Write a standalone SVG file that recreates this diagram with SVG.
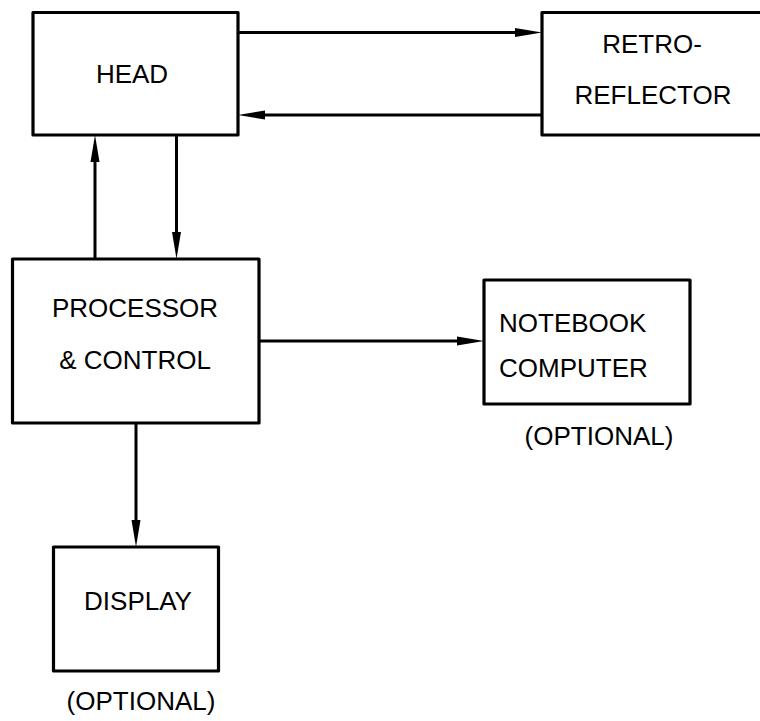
<svg xmlns="http://www.w3.org/2000/svg" width="760" height="721" viewBox="0 0 760 721">
<style>
.box{fill:#fff;stroke:#000;stroke-width:3.2;stroke-linejoin:round}
.ln{stroke:#000;stroke-width:3;fill:none}
.ah{fill:#000;stroke:none}
text{font-family:"Liberation Sans",Arial,sans-serif;font-size:26px;fill:#000}
.c{text-anchor:middle}
</style>
<rect width="760" height="721" fill="#fff"/>
<g id="connectors">
<line class="ln" x1="238" y1="32.5" x2="516" y2="32.5"/>
<polygon class="ah" points="542,32.5 515,28 515,37"/>
<line class="ln" x1="542" y1="115" x2="264" y2="115"/>
<polygon class="ah" points="238,115 265,110.5 265,119.5"/>
<line class="ln" x1="95" y1="259" x2="95" y2="160"/>
<polygon class="ah" points="95,135 90.5,162 99.5,162"/>
<line class="ln" x1="176.5" y1="135" x2="176.5" y2="234"/>
<polygon class="ah" points="176.5,259 172,232 181,232"/>
<line class="ln" x1="259" y1="341" x2="458" y2="341"/>
<polygon class="ah" points="484,341 457,336.5 457,345.5"/>
<line class="ln" x1="136" y1="423" x2="136" y2="522"/>
<polygon class="ah" points="136,547 131.5,520 140.5,520"/>
</g>
<g id="head">
<rect class="box" x="33" y="12.5" width="205" height="122.5"/>
<text class="c" x="132" y="83">HEAD</text>
</g>
<g id="retroreflector">
<rect class="box" x="542" y="12.5" width="225" height="122.5"/>
<text class="c" x="652" y="53">RETRO-</text>
<text class="c" x="653" y="104">REFLECTOR</text>
</g>
<g id="processor">
<rect class="box" x="12.5" y="259" width="246.5" height="164"/>
<text class="c" x="135" y="317">PROCESSOR</text>
<text class="c" x="135" y="369">&amp; CONTROL</text>
</g>
<g id="notebook">
<rect class="box" x="484" y="280" width="206" height="124"/>
<text x="499" y="332">NOTEBOOK</text>
<text x="499" y="377">COMPUTER</text>
<text class="c" x="599" y="445">(OPTIONAL)</text>
</g>
<g id="display">
<rect class="box" x="53.5" y="547" width="165" height="124"/>
<text class="c" x="138" y="610">DISPLAY</text>
<text class="c" x="141" y="710">(OPTIONAL)</text>
</g>
</svg>
